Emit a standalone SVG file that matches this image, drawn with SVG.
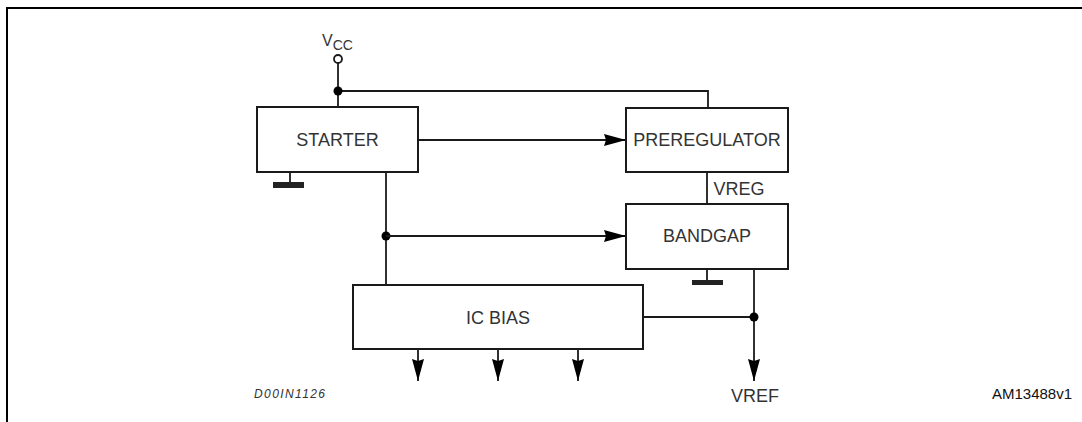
<svg xmlns="http://www.w3.org/2000/svg" width="1082" height="422" viewBox="0 0 1082 422">
<style>
.box{fill:#fff;stroke:#1a1a1a;stroke-width:2}
.lbl{font-family:"Liberation Sans",Arial,sans-serif;font-size:18px;fill:#333;text-anchor:middle}
.w{fill:none;stroke:#1a1a1a;stroke-width:1.8}
.dot{fill:#000}
.gnd{fill:#222}
</style>
<defs>
<marker id="ah" markerUnits="userSpaceOnUse" markerWidth="22" markerHeight="13" refX="22" refY="6.5" orient="auto">
<path d="M0,0.5 L22,6.5 L0,12.5 L2,6.5 Z" fill="#000"/>
</marker>
</defs>
<rect width="1082" height="422" fill="#fff"/>
<path d="M7,422 V8 H1082" fill="none" stroke="#000" stroke-width="2"/>

<g id="connectors">
<circle cx="338" cy="59" r="4" fill="#fff" stroke="#1a1a1a" stroke-width="1.8"/>
<path class="w" d="M338,63 V107"/>
<path class="w" d="M338,91 H708 V108"/>
<circle class="dot" cx="338" cy="91" r="4.5"/>
<path class="w" d="M418,140 H626" marker-end="url(#ah)"/>
<path class="w" d="M707,172 V204"/>
<path class="w" d="M386,172 V285"/>
<circle class="dot" cx="386" cy="236" r="4.5"/>
<path class="w" d="M386,236 H626" marker-end="url(#ah)"/>
<path class="w" d="M754,269 V381" marker-end="url(#ah)"/>
<path class="w" d="M643,317 H754"/>
<circle class="dot" cx="754" cy="317" r="4.5"/>
<path class="w" d="M418,349 V381" marker-end="url(#ah)"/>
<path class="w" d="M498,349 V381" marker-end="url(#ah)"/>
<path class="w" d="M578,349 V381" marker-end="url(#ah)"/>
<path class="w" d="M290,172 V182"/>
<rect class="gnd" x="273" y="182" width="31" height="6"/>
<path class="w" d="M707,269 V280"/>
<rect class="gnd" x="692" y="280" width="31" height="5"/>
</g>

<g id="vcc">
<text font-family="Liberation Sans,Arial,sans-serif" font-size="16" fill="#333" x="322" y="46">V<tspan font-size="14" dy="4">CC</tspan></text>
</g>
<g id="starter">
<rect class="box" x="257" y="107" width="161" height="65"/>
<text class="lbl" x="337.5" y="146">STARTER</text>
</g>
<g id="preregulator">
<rect class="box" x="626" y="108" width="162" height="64"/>
<text class="lbl" x="707" y="146">PREREGULATOR</text>
</g>
<g id="vreg">
<text class="lbl" x="739" y="195">VREG</text>
</g>
<g id="bandgap">
<rect class="box" x="626" y="204" width="162" height="65"/>
<text class="lbl" x="707" y="242">BANDGAP</text>
</g>
<g id="icbias">
<rect class="box" x="353" y="285" width="290" height="64"/>
<text class="lbl" x="498" y="324">IC BIAS</text>
</g>
<g id="vref">
<text class="lbl" x="755" y="402">VREF</text>
</g>
<text x="254" y="398" font-family="Liberation Sans,Arial,sans-serif" font-style="italic" font-size="12" fill="#333" textLength="71">D00IN1126</text>
<text x="992" y="399" font-family="Liberation Sans,Arial,sans-serif" font-size="15" fill="#111">AM13488v1</text>
</svg>
